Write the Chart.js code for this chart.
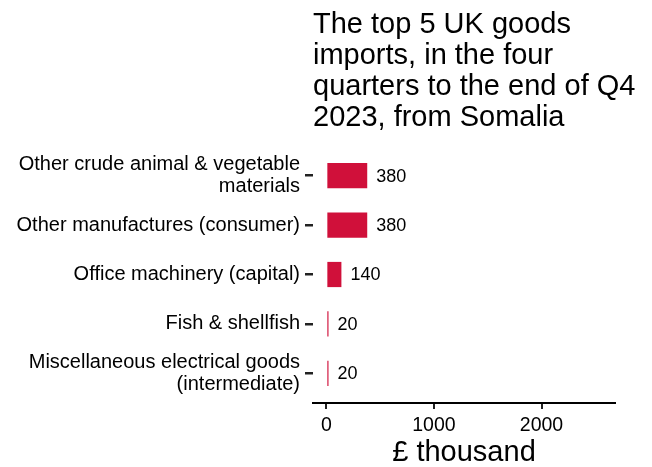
<!DOCTYPE html>
<html>
<head>
<meta charset="utf-8">
<script src="https://cdn.jsdelivr.net/npm/chart.js@4/dist/chart.umd.min.js"></script>
<style>
  html, body { margin: 0; padding: 0; background: #ffffff; }
  #wrap { width: 652px; height: 467px; position: relative; }
</style>
</head>
<body>
<div id="wrap"><canvas id="c" width="652" height="467"></canvas></div>
<script>
const titleLines = ["The top 5 UK goods", "imports, in the four", "quarters to the end of Q4", "2023, from Somalia"];
const categories = [
  ["Other crude animal & vegetable", "materials"],
  "Other manufactures (consumer)",
  "Office machinery (capital)",
  "Fish & shellfish",
  ["Miscellaneous electrical goods", "(intermediate)"]
];
const values = [380, 380, 140, 20, 20];
const valueLabels = ["380", "380", "140", "20", "20"];
const xTicks = [0, 1000, 2000];
const xTitle = "£ thousand";

const FONT = "'Liberation Sans', Arial, Helvetica, sans-serif";

const titlePlugin = {
  id: 'leftTitle',
  afterDraw(chart) {
    const ctx = chart.ctx;
    ctx.save();
    ctx.fillStyle = '#000000';
    ctx.font = "29px " + FONT;
    ctx.textAlign = 'left';
    ctx.textBaseline = 'alphabetic';
    titleLines.forEach((t, i) => ctx.fillText(t, chart.chartArea.left, 33 + i * 31));
    ctx.restore();
  }
};

const valuePlugin = {
  id: 'valueLabels',
  afterDatasetsDraw(chart) {
    const ctx = chart.ctx;
    const meta = chart.getDatasetMeta(0);
    ctx.save();
    ctx.fillStyle = '#000000';
    ctx.font = "18px " + FONT;
    ctx.textAlign = 'left';
    ctx.textBaseline = 'middle';
    meta.data.forEach((bar, i) => {
      ctx.fillText(valueLabels[i], bar.x + 9, bar.y + 1);
    });
    ctx.restore();
  }
};

new Chart(document.getElementById('c'), {
  type: 'bar',
  data: {
    labels: categories,
    datasets: [{
      data: values,
      backgroundColor: '#d0103a',
      borderWidth: 0,
      barPercentage: 0.51,
      categoryPercentage: 1.0
    }]
  },
  plugins: [titlePlugin, valuePlugin],
  options: {
    indexAxis: 'y',
    responsive: false,
    animation: false,
    devicePixelRatio: 1,
    layout: { padding: { top: 146, right: 37, left: 0, bottom: 0 } },
    plugins: {
      legend: { display: false },
      tooltip: { enabled: false },
      title: { display: false }
    },
    scales: {
      y: {
        type: 'category',
        offset: true,
        afterFit(scale) { scale.width = 313; },
        afterBuildTicks(scale) {
          // ggplot-style discrete expansion of 0.6 on each side
          const n = scale.ticks.length;
          scale._startValue = -0.6;
          scale._valueRange = (n - 1) + 1.2;
        },
        border: { display: false },
        grid: {
          display: true,
          offset: false,
          drawOnChartArea: false,
          drawTicks: true,
          tickLength: 8,
          color: '#222222',
          lineWidth: 2.5
        },
        ticks: {
          color: '#000000',
          padding: 5,
          font: { family: FONT, size: 20, lineHeight: 1.1 }
        }
      },
      x: {
        type: 'linear',
        min: -124,
        max: 2683,
        afterBuildTicks(scale) { scale.ticks = xTicks.map(v => ({ value: v })); },
        afterFit(scale) { scale.height = 64; },
        border: { display: true, color: '#000000', width: 2 },
        grid: {
          display: true,
          drawOnChartArea: false,
          drawTicks: true,
          tickLength: 6,
          color: '#222222',
          lineWidth: 2
        },
        ticks: {
          color: '#000000',
          padding: 5,
          maxRotation: 0,
          font: { family: FONT, size: 19.5 },
          callback: (v) => String(v)
        },
        title: {
          display: true,
          text: xTitle,
          color: '#000000',
          padding: { top: 0, bottom: 0 },
          font: { family: FONT, size: 29, lineHeight: 1.0 }
        }
      }
    }
  }
});
</script>
</body>
</html>
